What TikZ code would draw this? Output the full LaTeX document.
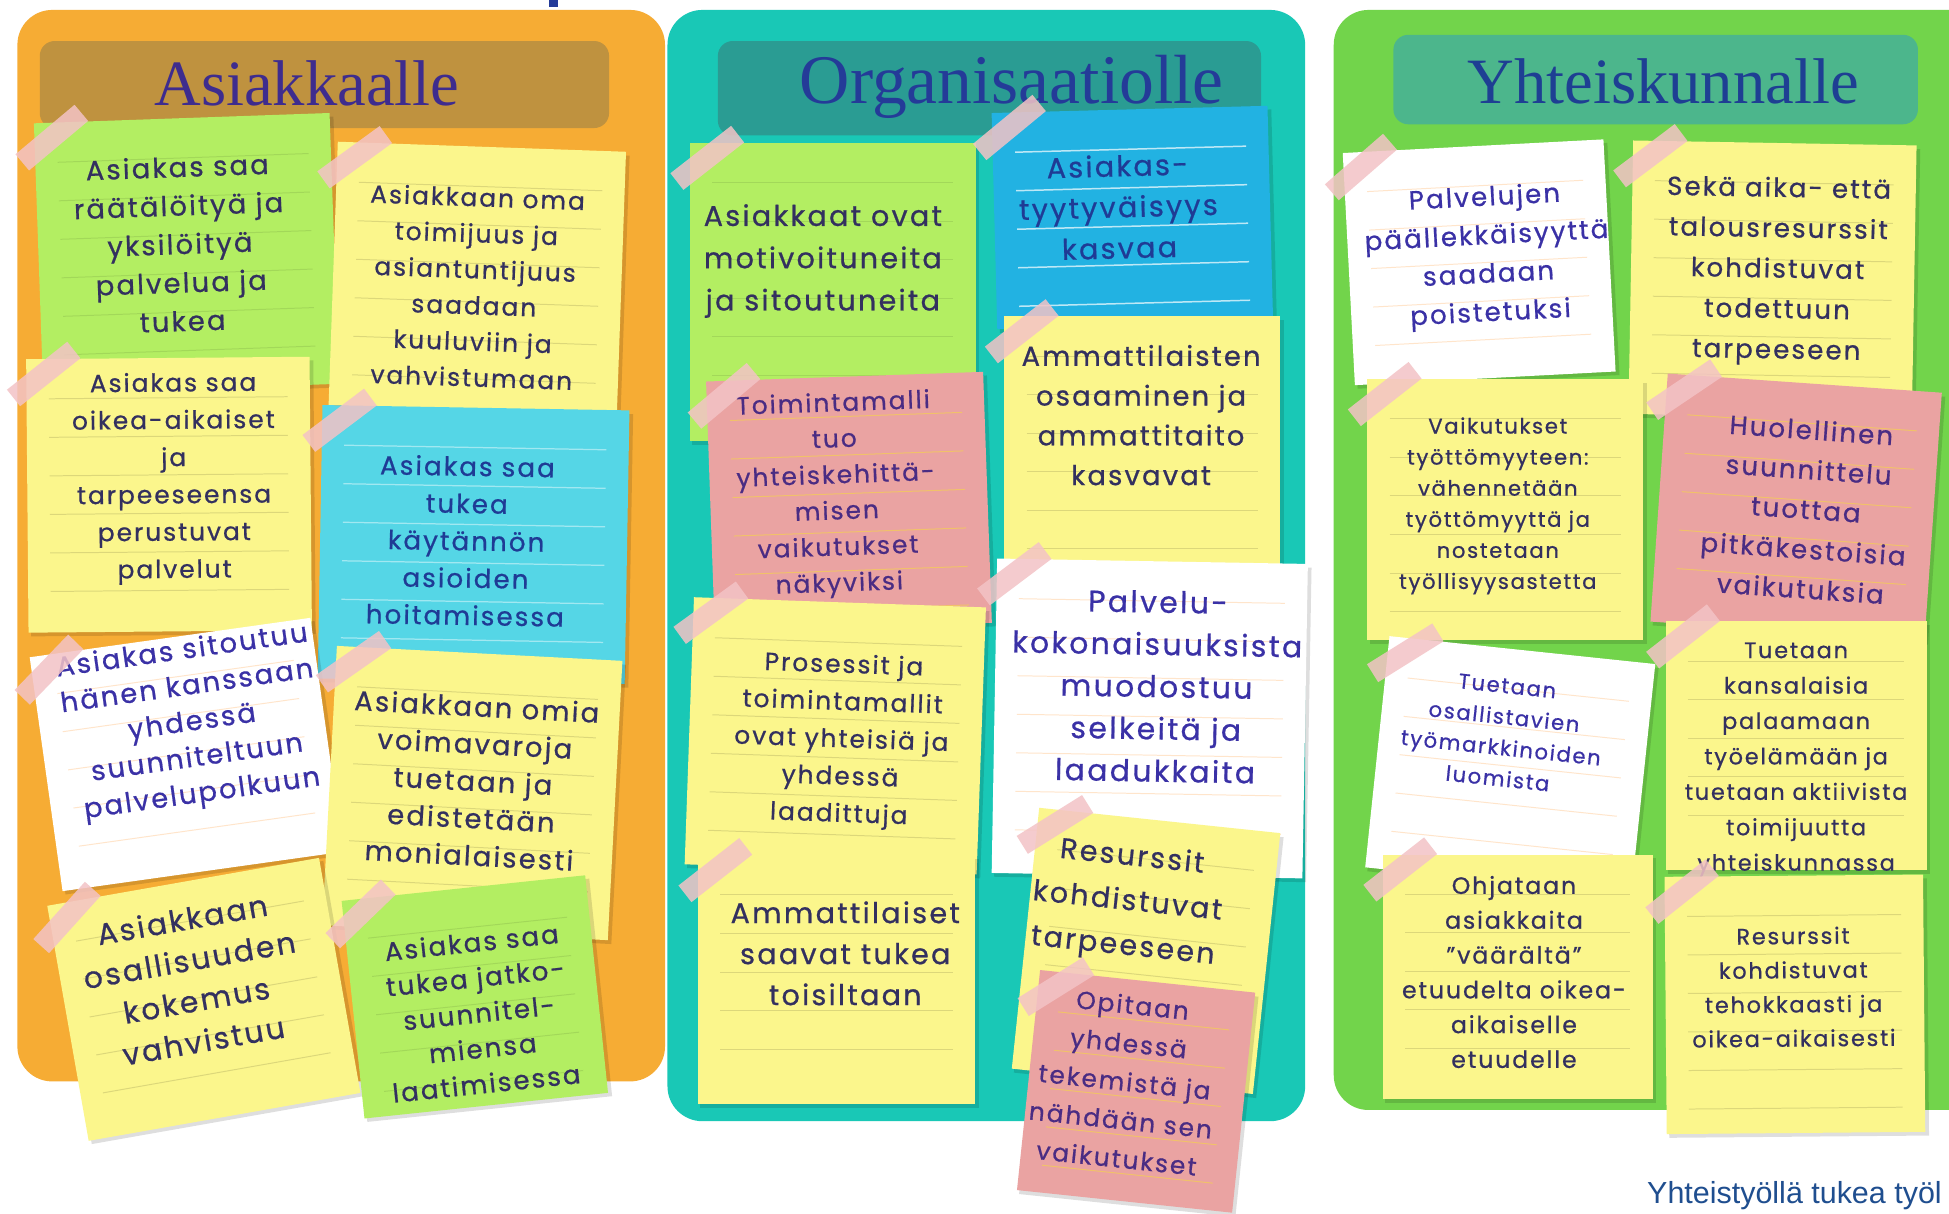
\documentclass[tikz,border=0pt]{standalone}
\usepackage{fontspec}
\setmainfont{Poppins}
\newfontfamily\notefont{Poppins}[LetterSpace=8,FakeBold=0.7]
\newfontfamily\titlefont{Liberation Serif}
\newfontfamily\footfont{Liberation Sans}
\definecolor{panelO}{HTML}{F6AC34}
\definecolor{hdrO}{HTML}{BF923F}
\definecolor{panelT}{HTML}{19C8B6}
\definecolor{hdrT}{HTML}{2A9C93}
\definecolor{panelG}{HTML}{72D44B}
\definecolor{hdrG}{HTML}{4CB68C}
\definecolor{noteY}{HTML}{FBF68C}
\definecolor{noteL}{HTML}{B3EE62}
\definecolor{noteC}{HTML}{55D6E6}
\definecolor{noteB}{HTML}{22B2E2}
\definecolor{noteP}{HTML}{EAA3A2}
\definecolor{noteW}{HTML}{FFFFFF}
\definecolor{ink}{HTML}{33305F}
\definecolor{inkP}{HTML}{3A31A6}
\definecolor{inkPk}{HTML}{4A2C83}
\definecolor{inkC}{HTML}{1F3B95}
\definecolor{titleA}{HTML}{3E2C8E}
\definecolor{titleO}{HTML}{243B98}
\definecolor{titleY}{HTML}{1E3F93}
\definecolor{tapec}{HTML}{F3C3C6}
\definecolor{footc}{HTML}{1F4E8F}
\tikzset{
  notebox/.style={rectangle, inner sep=0pt, draw=none, transform shape},
  notetext/.style={align=center, inner sep=0pt, transform shape},
  fs/.style n args={2}{font=\notefont\fontsize{#1}{#2}\selectfont},
  tape/.style={rectangle, inner sep=0pt, fill=tapec, fill opacity=.85, minimum width=62pt, minimum height=17pt, rotate=38, transform shape},
  header/.style={rectangle, rounded corners=12pt, inner sep=0pt},
  titletext/.style={font=\titlefont\fontsize{52}{56}\selectfont, inner sep=0pt, anchor=base},
  rule-noteY/.style={draw=black!35!noteY, opacity=.35, line width=.8pt},
  rule-noteL/.style={draw=black!30!noteL, opacity=.3, line width=.8pt},
  rule-noteC/.style={draw=white, opacity=.45, line width=1pt},
  rule-noteB/.style={draw=white, opacity=.7, line width=1.2pt},
  rule-noteP/.style={draw=yellow!60!noteP, opacity=.6, line width=.8pt},
  rule-noteW/.style={draw=orange!25!white, opacity=.8, line width=.8pt},
}
% name, centre, width, height, angle, fill, text offset, text style, text
\newcommand\snote[9]{%
  \begin{scope}[shift={#2}, rotate=#5]
    \fill[black, opacity=.13] (-#3/2+2,-#4/2-3) rectangle (#3/2+3,#4/2-3);
    \node[notebox, fill=#6, minimum width=#3pt, minimum height=#4pt] (#1) at (0,0) {};
    \pgfmathsetmacro\ytop{#4/2-32}\pgfmathsetmacro\ytwo{#4/2-63}\pgfmathsetmacro\ybot{-#4/2+14}
    \foreach \yy in {\ytop,\ytwo,...,\ybot} \draw[rule-#6] (-#3/2+18,\yy) -- (#3/2-18,\yy);
    \node[notetext, #8] (#1t) at #7 {#9};
    \node[tape] (#1p) at (-#3/2+14,#4/2-12) {};
  \end{scope}}
\begin{document}
\begin{tikzpicture}[x=1pt,y=1pt]
\useasboundingbox (0,0) rectangle (1568,-976);
\clip (0,0) rectangle (1568,-976);
\fill[white] (0,0) rectangle (1568,-976);
\fill[titleO] (442,0) rectangle (449,-6);
% panels
\fill[panelO, rounded corners=28pt] (14,-8) rectangle (535,-870);
\fill[panelT, rounded corners=28pt] (537,-8) rectangle (1050,-902);
\fill[panelG, rounded corners=28pt] (1073,-8) rectangle (1610,-893);
% headers
\node[header, fill=hdrO, minimum width=458pt, minimum height=70pt] (hA) at (261,-68) {};
\node[header, fill=hdrT, minimum width=437pt, minimum height=76pt] (hO) at (796,-71) {};
\node[header, fill=hdrG, minimum width=422pt, minimum height=72pt] (hY) at (1332,-64) {};
\node[titletext, text=titleA] (tA) at (247,-85) {Asiakkaalle};
\node[titletext, text=titleO, font=\titlefont\fontsize{56}{60}\selectfont] (tO) at (814,-83) {Organisaatiolle};
\node[titletext, text=titleY] (tY) at (1338,-83) {Yhteiskunnalle};
% Asiakkaalle
\snote{a1}{(150,-204)}{238}{218}{2}{noteL}{(-5,8)}{fs={22}{31},text=ink}{Asiakas saa\\räätälöityä ja\\yksilöityä\\palvelua ja\\tukea}
\snote{a2}{(384,-224)}{232}{212}{-2}{noteY}{(-2,-7)}{fs={20}{29},text=ink}{Asiakkaan oma\\toimijuus ja\\asiantuntijuus\\saadaan\\kuuluviin ja\\vahvistumaan}
\snote{a3}{(136,-398)}{228}{220}{0.5}{noteY}{(4,13)}{fs={20}{30},text=ink}{Asiakas saa\\oikea-aikaiset\\ja\\tarpeeseensa\\perustuvat\\palvelut}
\snote{a4}{(381,-438)}{247}{220}{-1}{noteC}{(-6,3)}{fs={21}{30},text=inkC}{Asiakas saa\\tukea\\käytännön\\asioiden\\hoitamisessa}
\snote{a5}{(150,-607)}{228}{190}{8}{noteW}{(8,24)}{fs={22}{29},text=inkP}{Asiakas sitoutuu\\hänen kanssaan\\yhdessä\\suunniteltuun\\palvelupolkuun}
\snote{a6}{(380,-638)}{230}{225}{-3}{noteY}{(0,10)}{fs={22}{30},text=ink}{Asiakkaan omia\\voimavaroja\\tuetaan ja\\edistetään\\monialaisesti}
\snote{a7}{(164,-804)}{222}{192}{10}{noteY}{(-6,17)}{fs={24}{33},text=ink}{Asiakkaan\\osallisuuden\\kokemus\\vahvistuu}
\snote{a8}{(382,-802)}{197}{176}{6}{noteL}{(2,-13)}{fs={21}{28.5},text=ink}{Asiakas saa\\tukea jatko-\\suunnitel-\\miensa\\laatimisessa}
% Organisaatiolle
\snote{o1}{(670,-235)}{230}{240}{0}{noteL}{(-8,25)}{fs={23}{34},text=ink}{Asiakkaat ovat\\motivoituneita\\ja sitoutuneita}
\snote{o2}{(911,-175)}{222}{174}{1.5}{noteB}{(-11,9)}{fs={23}{33},text=inkC}{Asiakas-\\tyytyväisyys\\kasvaa}
\snote{o3}{(683,-404)}{223}{202}{2}{noteP}{(-10,6)}{fs={20}{29},text=inkPk}{Toimintamalli\\tuo\\yhteiskehittä-\\misen\\vaikutukset\\näkyviksi}
\snote{o4}{(919,-358)}{222}{207}{0}{noteY}{(-1,24)}{fs={22}{32},text=ink}{Ammattilaisten\\osaaminen ja\\ammattitaito\\kasvavat}
\snote{o5}{(672,-592)}{235}{215}{-2}{noteY}{(5,-4)}{fs={20}{30},text=ink}{Prosessit ja\\toimintamallit\\ovat yhteisiä ja\\yhdessä\\laadittuja}
\snote{o6}{(925,-578)}{250}{253}{-1}{noteW}{(5,26)}{fs={24}{34},text=inkP}{Palvelu-\\kokonaisuuksista\\muodostuu\\selkeitä ja\\laadukkaita}
\snote{o7}{(673,-788)}{223}{200}{0}{noteY}{(7,21)}{fs={23}{33},text=ink}{Ammattilaiset\\saavat tukea\\toisiltaan}
\snote{o8}{(922,-765)}{195}{211}{-6}{noteY}{(-19,37)}{fs={23}{36},text=ink}{Resurssit\\kohdistuvat\\tarpeeseen}
\snote{o9}{(914,-878)}{174}{178}{-6}{noteP}{(-10,7)}{fs={20}{31},text=inkPk}{Opitaan\\yhdessä\\tekemistä ja\\nähdään sen\\vaikutukset}
% Yhteiskunnalle
\snote{y1}{(1190,-211)}{210}{187}{3}{noteW}{(7,4)}{fs={21}{31},text=inkP}{Palvelujen\\päällekkäisyyttä\\saadaan\\poistetuksi}
\snote{y2}{(1426,-225)}{228}{220}{-1}{noteY}{(4,7)}{fs={21}{32.5},text=ink}{Sekä aika- että\\talousresurssit\\kohdistuvat\\todettuun\\tarpeeseen}
\snote{y3}{(1211,-410)}{222}{210}{0}{noteY}{(-6,3)}{fs={17}{25},text=ink}{Vaikutukset\\työttömyyteen:\\vähennetään\\työttömyyttä ja\\nostetaan\\työllisyysastetta}
\snote{y4}{(1445,-408)}{221}{200}{-4}{noteP}{(8,-1)}{fs={21}{32},text=inkPk}{Huolellinen\\suunnittelu\\tuottaa\\pitkäkestoisia\\vaikutuksia}
\snote{y5}{(1215,-616)}{215}{187}{-6}{noteW}{(-9,26)}{fs={17}{25},text=inkP}{Tuetaan\\osallistavien\\työmarkkinoiden\\luomista}
\snote{y6}{(1445,-600)}{210}{200}{0}{noteY}{(0,-11)}{fs={18}{28.5},text=ink}{Tuetaan\\kansalaisia\\palaamaan\\työelämään ja\\tuetaan aktiivista\\toimijuutta\\yhteiskunnassa}
\snote{y7}{(1221,-786)}{217}{197}{0}{noteY}{(-3,4)}{fs={19}{28},text=ink}{Ohjataan\\asiakkaita\\”väärältä”\\etuudelta oikea-\\aikaiselle\\etuudelle}
\snote{y8}{(1444,-808)}{208}{207}{0.5}{noteY}{(-1,14)}{fs={18}{27.5},text=ink}{Resurssit\\kohdistuvat\\tehokkaasti ja\\oikea-aikaisesti}
% footer
\node[font=\footfont\fontsize{24.5}{28}\selectfont, text=footc, anchor=base west, inner sep=0pt] (foot) at (1325,-968) {Yhteistyöllä tukea työl};
\end{tikzpicture}
\end{document}
